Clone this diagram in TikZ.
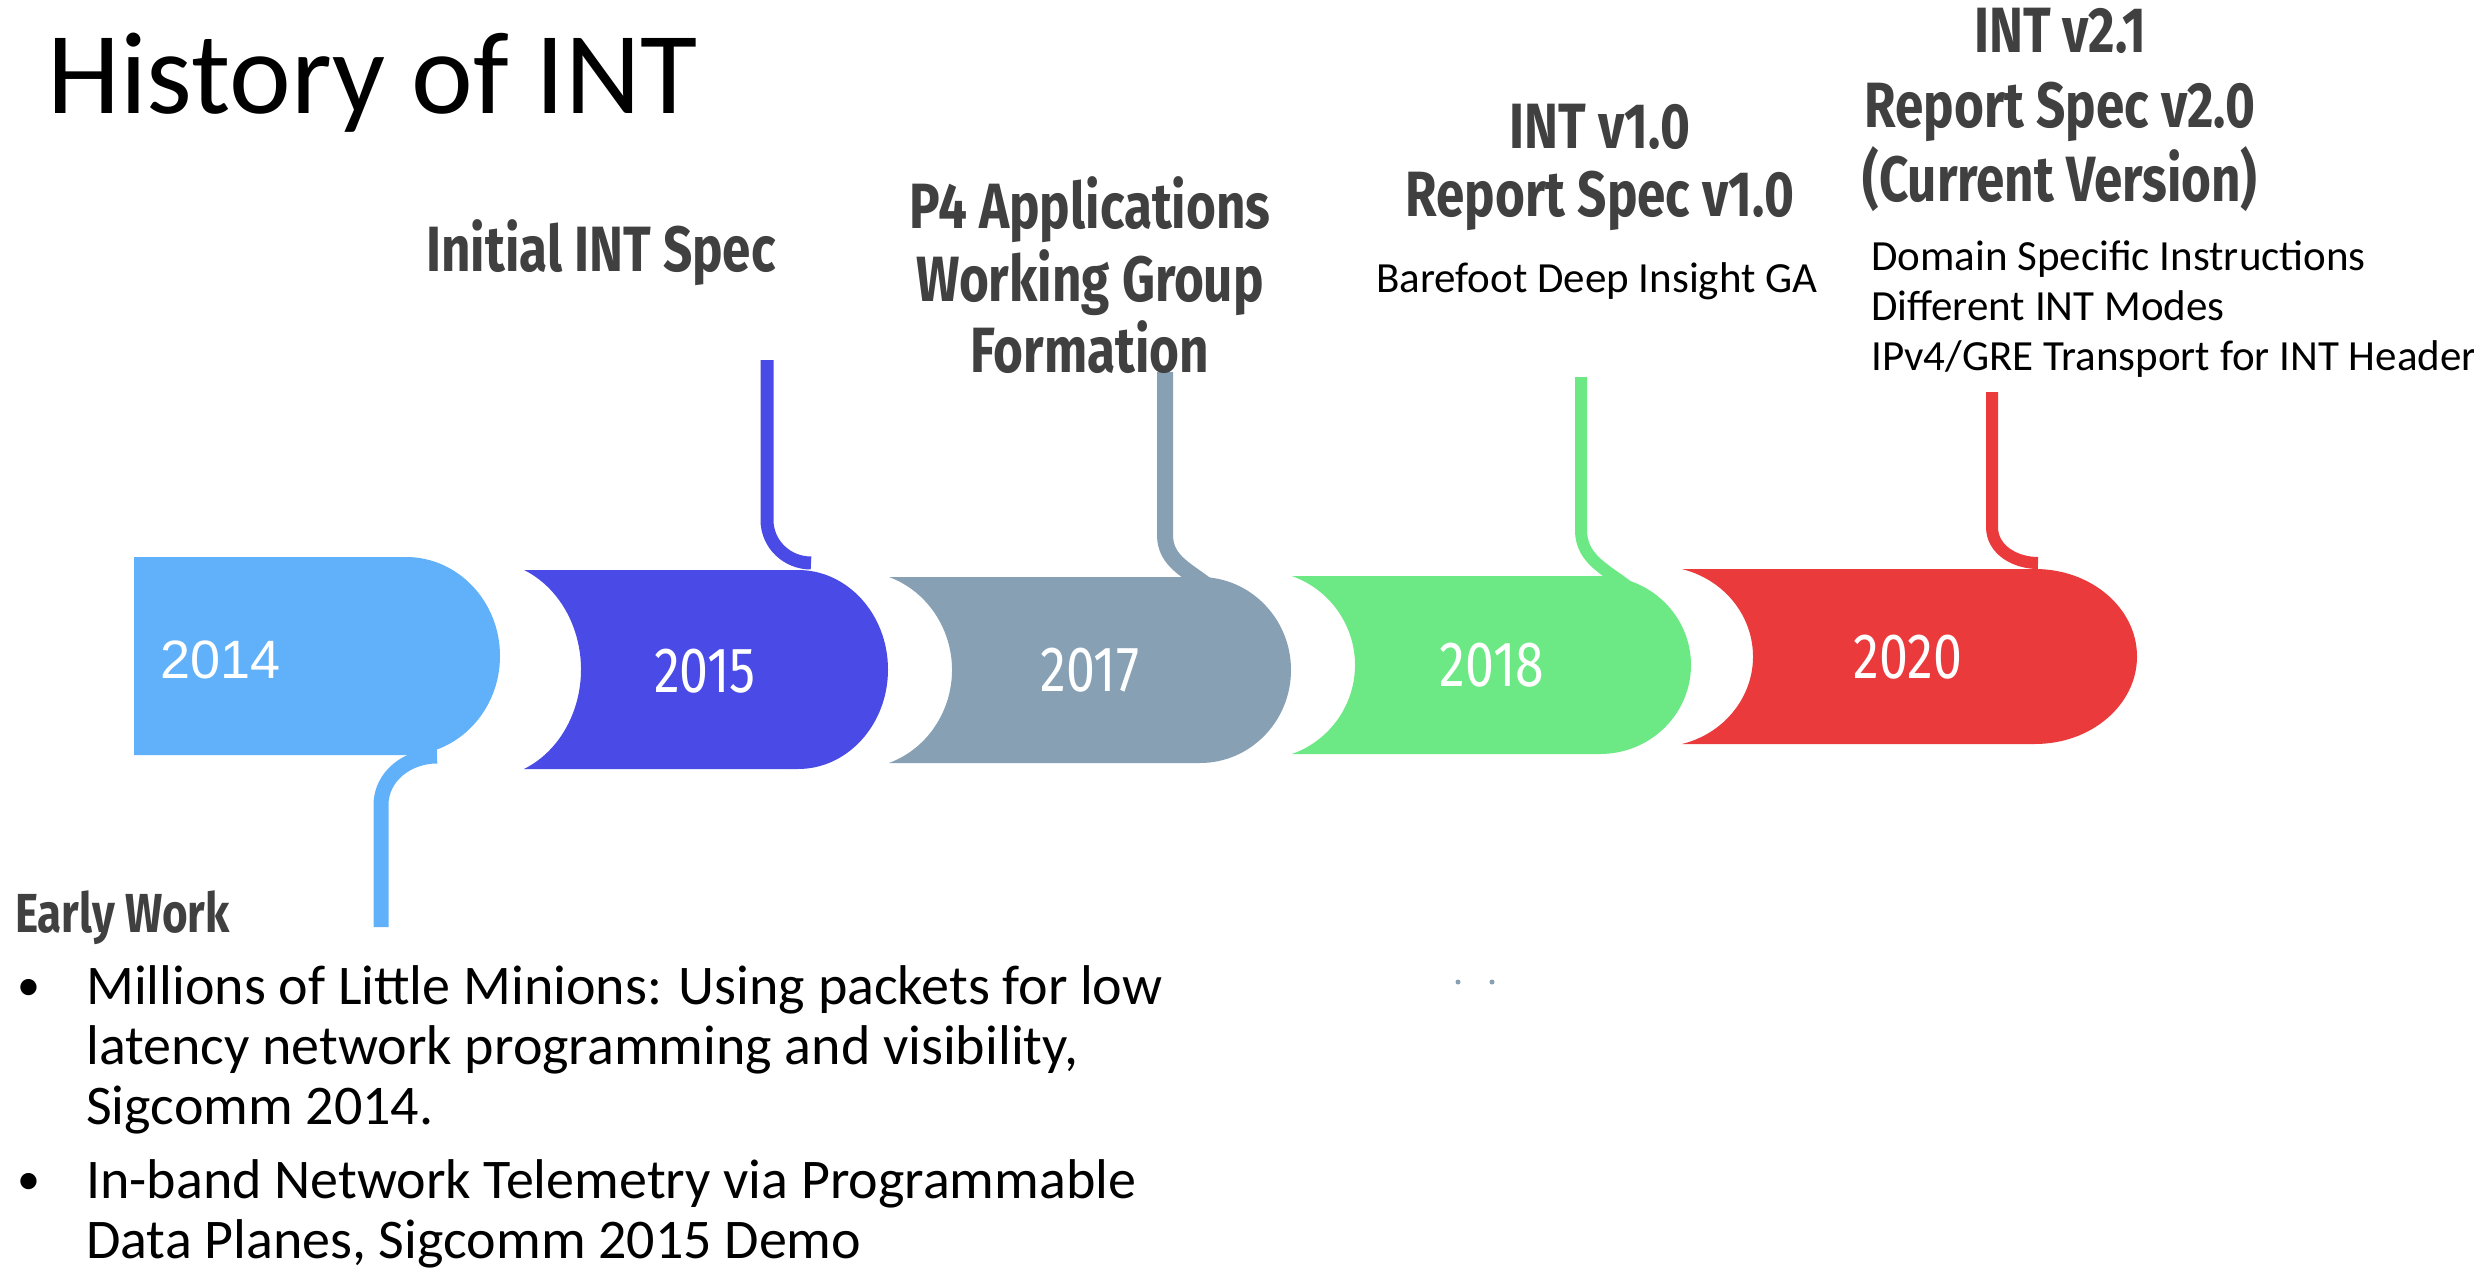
\documentclass[tikz,border=0pt]{standalone}
\usepackage{fontspec}
\setmainfont{Carlito}
\newfontfamily\headfont[FakeStretch=0.8]{Fira Sans}
\newfontfamily\yearfont[FakeStretch=0.81]{Fira Sans}
\newfontfamily\arialfont{Liberation Sans}

\definecolor{headgray}{HTML}{404040}
\definecolor{cA}{HTML}{61B1FA}
\definecolor{cB}{HTML}{4A4AE6}
\definecolor{cC}{HTML}{88A0B4}
\definecolor{cD}{HTML}{6CE985}
\definecolor{cE}{HTML}{EB3A3C}

\tikzset{
  heading/.style={font=\headfont\bfseries\fontsize{64}{70}\selectfont, text=headgray, inner sep=0pt, anchor=base},
  smallhead/.style={font=\headfont\bfseries\fontsize{55}{60}\selectfont, text=headgray, inner sep=0pt, anchor=base west},
  body/.style={font=\fontsize{43}{50}\selectfont, inner sep=0pt, anchor=base west},
  refline/.style={font=\fontsize{56}{60}\selectfont, inner sep=0pt, anchor=base west},
  bulletmark/.style={font=\fontsize{46}{50}\selectfont, inner sep=0pt, anchor=base},
  yeartext/.style={font=\yearfont\fontsize{64}{64}\selectfont, text=white, inner sep=0pt, anchor=base},
  conn/.style={line width=#1, line cap=butt},
}

\begin{document}
\begin{tikzpicture}[x=1pt,y=-1pt]
\useasboundingbox (0,0) rectangle (2474,1268);
\fill[white] (0,0) rectangle (2474,1268);

% title
\node[font=\fontsize{117}{130}\selectfont, inner sep=0pt, anchor=base west] (title) at (47,114) {History of INT};

% connector end points
\coordinate (a1) at (437,756);
\coordinate (a2) at (381,805);
\coordinate (a3) at (381,927);
\coordinate (b1) at (767,360);
\coordinate (b2) at (767,520);
\coordinate (b3) at (811,563);
\coordinate (c1) at (1165,372);
\coordinate (c2) at (1165,535);
\coordinate (c3) at (1210,588);
\coordinate (d1) at (1581,377);
\coordinate (d2) at (1581,530);
\coordinate (d3) at (1632,590);
\coordinate (e1) at (1992,392);
\coordinate (e2) at (1992,527);
\coordinate (e3) at (2038,563);

% connectors
\draw[conn=15pt, cA] (a1) to[out=180,in=90] (a2) -- (a3);
\draw[conn=13pt, cB] (b1) -- (b2) to[out=-90,in=180] (b3);
\draw[conn=16pt, cC] (c1) -- (c2) to[out=-90,in=140] (c3);
\draw[conn=12pt, cD] (d1) -- (d2) to[out=-90,in=140] (d3);
\draw[conn=12pt, cE] (e1) -- (e2) to[out=-90,in=180] (e3);

% year blocks
\fill[cA] (134,557) -- (406,557) arc[start angle=-90, end angle=90, x radius=94, y radius=99] -- (134,755) -- cycle;
\fill[cB] (524,570) -- (798,570) arc[start angle=-90, end angle=90, x radius=90, y radius=99.5]
  -- (524,769) arc[start angle=66.42, end angle=-66.42, x radius=95, y radius=108.6] -- cycle;
\fill[cC] (889,577) -- (1200,577) arc[start angle=-90, end angle=90, x radius=91, y radius=93]
  -- (889,763) arc[start angle=70.32, end angle=-70.32, x radius=95, y radius=98.8] -- cycle;
\fill[cD] (1292,576) -- (1600,576) arc[start angle=-90, end angle=90, x radius=91, y radius=89]
  -- (1292,754) arc[start angle=70.32, end angle=-70.32, x radius=95, y radius=94.5] -- cycle;
\fill[cE] (1682,569) -- (2035,569) arc[start angle=-90, end angle=90, x radius=102, y radius=87.5]
  -- (1682,744) arc[start angle=75.37, end angle=-75.37, x radius=95, y radius=90.4] -- cycle;

% years
\node[font=\arialfont\fontsize{54}{54}\selectfont, text=white, inner sep=0pt, anchor=base west] (y14) at (160,678) {2014};
\node[yeartext] (y15) at (705,692) {2015};
\node[yeartext] (y17) at (1090,691) {2017};
\node[yeartext] (y18) at (1492,686) {2018};
\node[yeartext] (y20) at (1908,678) {2020};

% milestones
\node[heading] (h15) at (601,272) {Initial INT Spec};
\node[heading] (h17a) at (1090,229) {P4 Applications};
\node[heading] (h17b) at (1090,301) {Working Group};
\node[heading] (h17c) at (1090,372) {Formation};
\node[heading] (h18a) at (1600,149) {INT v1.0};
\node[heading] (h18b) at (1600,217) {Report Spec v1.0};
\node[body] (n18) at (1376,292) {Barefoot Deep Insight GA};
\node[heading] (h20a) at (2060,53) {INT v2.1};
\node[heading] (h20b) at (2060,128) {Report Spec v2.0};
\node[heading] (h20c) at (2060,202) {(Current Version)};
\node[body] (n20a) at (1871,270) {Domain Specific Instructions};
\node[body] (n20b) at (1871,320) {Different INT Modes};
\node[body] (n20c) at (1871,370) {IPv4/GRE Transport for INT Header};

% early work
\node[smallhead] (h14) at (15,932) {Early Work};
\node[bulletmark] (bul1) at (29,1000) {•};
\node[refline] (r1a) at (86,1004) {Millions of Little Minions: Using packets for low};
\node[refline] (r1b) at (86,1064) {latency network programming and visibility,};
\node[refline] (r1c) at (86,1124) {Sigcomm 2014.};
\node[bulletmark] (bul2) at (29,1194) {•};
\node[refline] (r2a) at (86,1198) {In-band Network Telemetry via Programmable};
\node[refline] (r2b) at (86,1258) {Data Planes, Sigcomm 2015 Demo};

% two small dots
\fill[cC] (1458,982) circle[radius=2.5];
\fill[cC] (1492,982) circle[radius=2.5];
\end{tikzpicture}
\end{document}
